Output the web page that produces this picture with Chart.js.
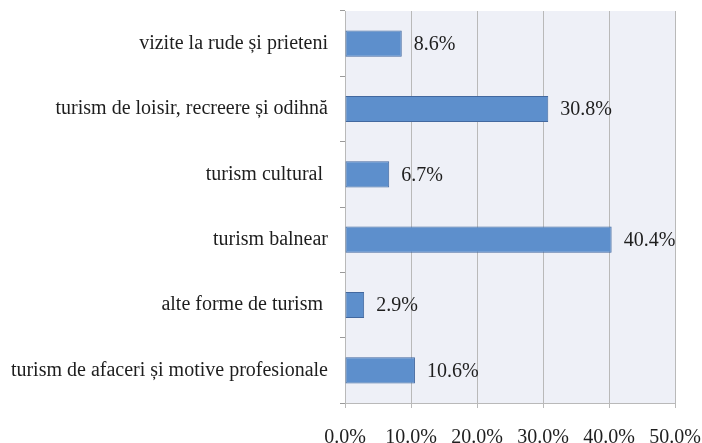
<!DOCTYPE html>
<html>
<head>
<meta charset="utf-8">
<script src="https://cdn.jsdelivr.net/npm/chart.js@4/dist/chart.umd.min.js"></script>
<style>
  html, body { margin: 0; padding: 0; background: #fff; }
  #wrap { width: 702px; height: 443px; }
</style>
</head>
<body>
<div id="wrap"><canvas id="canvas" width="702" height="443"></canvas></div>
<script>
let categories = [
  'vizite la rude și prieteni',
  'turism de loisir, recreere și odihnă',
  'turism cultural ',
  'turism balnear',
  'alte forme de turism ',
  'turism de afaceri și motive profesionale'
];
let shares = [8.6, 30.8, 6.7, 40.4, 2.9, 10.6];
let axisMax = 50;
let axisStep = 10;

const serif = "'Liberation Serif', 'DejaVu Serif', serif";

// light panel behind the bars
const panelBg = {
  id: 'panelBg',
  beforeDraw(chart) {
    let a = chart.chartArea;
    let c = chart.ctx;
    c.save();
    c.fillStyle = '#eef0f7';
    c.fillRect(a.left, a.top, a.right - a.left, a.bottom - a.top);
    c.restore();
  }
};

// percentage written just past the end of each bar
const valueLabels = {
  id: 'valueLabels',
  afterDatasetsDraw(chart) {
    let c = chart.ctx;
    let meta = chart.getDatasetMeta(0);
    c.save();
    c.font = '20px ' + serif;
    c.fillStyle = '#1e1e1e';
    c.textAlign = 'left';
    c.textBaseline = 'middle';
    meta.data.forEach((bar, i) => {
      c.fillText(shares[i].toFixed(1) + '%', bar.x + 12, bar.y + 1);
    });
    c.restore();
  }
};

let ctx = document.getElementById('canvas').getContext('2d');
let chart = new Chart(ctx, {
  type: 'bar',
  data: {
    labels: categories,
    datasets: [{
      data: shares,
      backgroundColor: '#5d8fcc',
      borderColor: '#42689f',
      borderWidth: 1,
      borderSkipped: false,
      categoryPercentage: 1,
      barPercentage: 0.4
    }]
  },
  options: {
    indexAxis: 'y',
    responsive: false,
    animation: false,
    layout: { padding: { top: 11, right: 27, left: 0, bottom: 0 } },
    plugins: {
      legend: { display: false },
      tooltip: { enabled: false }
    },
    scales: {
      x: {
        min: 0,
        max: axisMax,
        ticks: {
          stepSize: axisStep,
          padding: 18,
          color: '#1e1e1e',
          font: { family: serif, size: 20 },
          callback: (v) => v.toFixed(1) + '%'
        },
        grid: { color: '#b9b9b9', tickLength: 5, lineWidth: 1 },
        border: { color: '#b9b9b9' },
        afterFit(scale) {
          scale.height = 40;
          scale.paddingLeft = 0;
          scale.paddingRight = 0;
        }
      },
      y: {
        ticks: {
          padding: 12,
          color: '#1e1e1e',
          font: { family: serif, size: 20 }
        },
        grid: { drawOnChartArea: false, color: '#9a9a9a', tickLength: 5, offset: true },
        border: { color: '#b9b9b9' },
        afterFit(scale) {
          scale.width = 345;
          scale.paddingTop = 0;
          scale.paddingBottom = 0;
        }
      }
    }
  },
  plugins: [panelBg, valueLabels]
});
</script>
</body>
</html>
